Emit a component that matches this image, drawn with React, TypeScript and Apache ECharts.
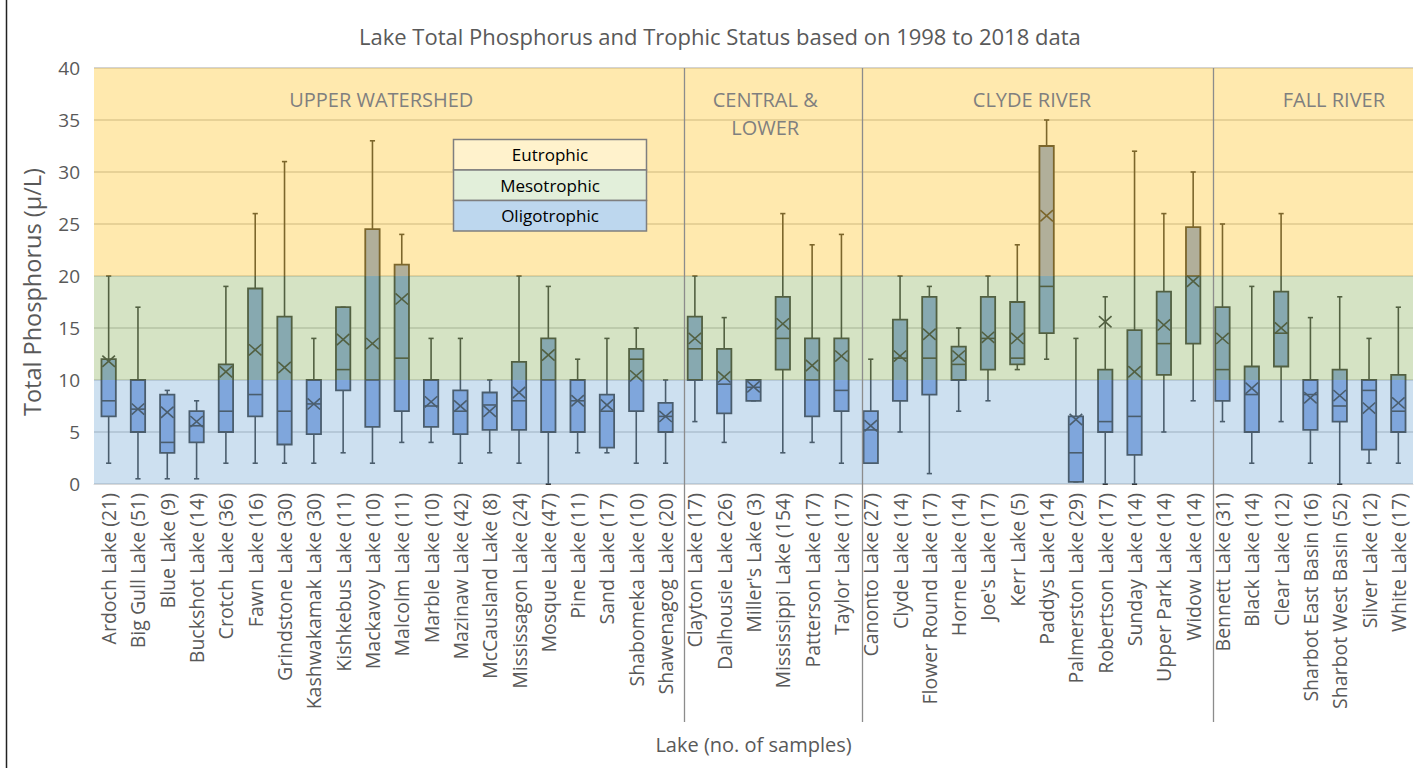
import React, { useEffect, useRef } from "react";
import * as echarts from "echarts";

const categories = [
  "Ardoch Lake (21)", "Big Gull Lake (51)", "Blue Lake (9)", "Buckshot Lake (14)", "Crotch Lake (36)",
  "Fawn Lake (16)", "Grindstone Lake (30)", "Kashwakamak Lake (30)", "Kishkebus Lake (11)", "Mackavoy Lake (10)",
  "Malcolm Lake (11)", "Marble Lake (10)", "Mazinaw Lake (42)", "McCausland Lake (8)", "Mississagon Lake (24)",
  "Mosque Lake (47)", "Pine Lake (11)", "Sand Lake (17)", "Shabomeka Lake (10)", "Shawenagog Lake (20)",
  "Clayton Lake (17)", "Dalhousie Lake (26)", "Miller's Lake (3)", "Mississippi Lake (154)", "Patterson Lake (17)",
  "Taylor Lake (17)",
  "Canonto Lake (27)", "Clyde Lake (14)", "Flower Round Lake (17)", "Horne Lake (14)", "Joe's Lake (17)",
  "Kerr Lake (5)", "Paddys Lake (14)", "Palmerston Lake (29)", "Robertson Lake (17)", "Sunday Lake (14)",
  "Upper Park Lake (14)", "Widow Lake (14)",
  "Bennett Lake (31)", "Black Lake (14)", "Clear Lake (12)", "Sharbot East Basin (16)", "Sharbot West Basin (52)",
  "Silver Lake (12)", "White Lake (17)",
];

const minVals = [2, 0.5, 0.5, 0.5, 2, 2, 2, 2, 3, 2, 4, 4, 2, 3, 2, 0, 3, 3, 2, 2, 6, 4, 8, 3, 4, 2, 2, 5, 1, 7, 8, 11, 12, 0.2, 0, 0, 5, 8, 6, 2, 6, 2, 0, 2, 2];
const q1Vals = [6.5, 5, 3, 4, 5, 6.5, 3.8, 4.8, 9, 5.5, 7, 5.5, 4.8, 5.2, 5.2, 5, 5, 3.5, 7, 5, 10, 6.8, 8, 11, 6.5, 7, 2, 8, 8.6, 10, 11, 11.5, 14.5, 0.2, 5, 2.8, 10.5, 13.5, 8, 5, 11.3, 5.2, 6, 3.3, 5];
const medianVals = [8, 7.2, 4, 5.6, 7, 8.6, 7, 7.7, 11, 10, 12.1, 7.5, 7, 7.6, 8, 10, 8, 7, 12, 6.5, 13, 9.6, 9.3, 14, 10, 9, 5.2, 12.1, 12.1, 11.5, 14, 12.1, 19, 3, 6, 6.5, 13.5, 20, 11, 8.6, 14.5, 8.6, 7.5, 9, 7];
const q3Vals = [12, 10, 8.6, 7, 11.5, 18.8, 16.1, 10, 17, 24.5, 21.1, 10, 9, 8.8, 11.75, 14, 10, 8.6, 13, 7.8, 16.1, 13, 10, 18, 14, 14, 7, 15.8, 18, 13.2, 18, 17.5, 32.5, 6.5, 11, 14.8, 18.5, 24.7, 17, 11.3, 18.5, 10, 11, 10, 10.5];
const maxVals = [20, 17, 9, 8, 19, 26, 31, 14, 17, 33, 24, 14, 14, 10, 20, 19, 12, 14, 15, 10, 20, 16, 10, 26, 23, 24, 12, 20, 19, 15, 20, 23, 35, 14, 18, 32, 26, 30, 25, 19, 26, 16, 18, 14, 17];
const meanVals = [11.8, 7.2, 6.9, 6, 10.8, 12.9, 11.2, 7.7, 13.9, 13.5, 17.8, 7.9, 7.5, 7, 8.8, 12.4, 8, 7.6, 10.4, 6.5, 14, 10.3, 9.35, 15.4, 11.4, 12.3, 5.6, 12.3, 14.4, 12.3, 14.1, 14, 25.8, 6.2, 15.6, 10.8, 15.3, 19.5, 14, 9.2, 15, 8.3, 8.5, 7.3, 7.8];

const yTicks = { min: 0, max: 40, interval: 5 };

const groupNames = ["UPPER WATERSHED", "CENTRAL &\nLOWER", "CLYDE RIVER", "FALL RIVER"];
const groupCenters = [9.8, 22.9, 32.0, 42.3];
const separatorPositions = [20.12, 26.2, 38.18];

const bandNames = ["Oligotrophic", "Mesotrophic", "Eutrophic"];
const bandFrom = [0, 10, 20];
const bandTo = [10, 20, 40];
const bandColors = ["rgb(144,186,222)", "rgb(162,193,124)", "rgb(255,206,75)"];
const legendColors = ["#BDD7EE", "#E2EFDA", "#FFF2CC"];

const FONT = "'Open Sans', 'Noto Sans', sans-serif";

export default function App() {
  const ref = useRef<HTMLDivElement>(null);

  useEffect(() => {
    if (!ref.current) return;
    const chart = echarts.init(ref.current, undefined, { renderer: "svg" });
    const data = categories.map((_, i) => [i, minVals[i], q1Vals[i], medianVals[i], q3Vals[i], maxVals[i], meanVals[i]]);
    const bandData = bandNames.map((_, i) => [bandFrom[i], bandTo[i], i]);
    const lineColor = "#121212";

    chart.setOption({
      animation: false,
      backgroundColor: "#ffffff",
      title: {
        text: "Lake Total Phosphorus and Trophic Status based on 1998 to 2018 data",
        left: 354,
        top: 20,
        textStyle: { fontFamily: FONT, fontSize: 22, fontWeight: "normal", color: "#595959" },
      },
      grid: { left: 94, right: 5, top: 68, bottom: 284, containLabel: false },
      xAxis: [
        {
          type: "category",
          data: categories,
          boundaryGap: true,
          axisLine: { show: true, lineStyle: { color: "#d9d9d9" } },
          axisTick: { show: false },
          axisLabel: {
            rotate: 90,
            interval: 0,
            fontFamily: FONT,
            fontSize: 19.5,
            color: "#595959",
            margin: 9,
          },
          name: "Lake (no. of samples)",
          nameLocation: "middle",
          nameGap: 250,
          nameTextStyle: { fontFamily: FONT, fontSize: 20, color: "#595959" },
        },
        { type: "value", min: 0, max: 45, show: false },
      ],
      yAxis: {
        type: "value",
        min: yTicks.min,
        max: yTicks.max,
        interval: yTicks.interval,
        axisLine: { show: false },
        axisTick: { show: false },
        splitLine: { show: true, lineStyle: { color: "#c4c4c4", width: 1.5 } },
        axisLabel: { fontFamily: FONT, fontSize: 19, color: "#595959", margin: 14 },
      },
      series: [
        {
          type: "custom",
          name: "boxes",
          z: 2,
          data,
          encode: { x: 0, y: [1, 2, 3, 4, 5, 6] },
          renderItem: (params: any, api: any) => {
            const idx = api.value(0);
            const pMin = api.coord([idx, api.value(1)]);
            const pQ1 = api.coord([idx, api.value(2)]);
            const pMed = api.coord([idx, api.value(3)]);
            const pQ3 = api.coord([idx, api.value(4)]);
            const pMax = api.coord([idx, api.value(5)]);
            const pMean = api.coord([idx, api.value(6)]);
            const cw = api.size([1, 0])[0];
            const bw = cw * 0.49;
            const cx = pMin[0];
            const cap = 2.6;
            const xsx = 6.3;
            const xsy = 5.6;
            const ls = { stroke: lineColor, lineWidth: 1.6 };
            const children: any[] = [
              { type: "line", shape: { x1: cx, y1: pMax[1], x2: cx, y2: pQ3[1] }, style: ls },
              { type: "line", shape: { x1: cx, y1: pQ1[1], x2: cx, y2: pMin[1] }, style: ls },
              { type: "line", shape: { x1: cx - cap, y1: pMax[1], x2: cx + cap, y2: pMax[1] }, style: ls },
              { type: "line", shape: { x1: cx - cap, y1: pMin[1], x2: cx + cap, y2: pMin[1] }, style: ls },
              {
                type: "rect",
                shape: { x: cx - bw / 2, y: pQ3[1], width: bw, height: pQ1[1] - pQ3[1] },
                style: { fill: "rgb(113,150,219)", stroke: lineColor, lineWidth: 1.8 },
              },
              { type: "line", shape: { x1: cx - bw / 2, y1: pMed[1], x2: cx + bw / 2, y2: pMed[1] }, style: ls },
              { type: "line", shape: { x1: cx - xsx, y1: pMean[1] - xsy, x2: cx + xsx, y2: pMean[1] + xsy }, style: ls },
              { type: "line", shape: { x1: cx - xsx, y1: pMean[1] + xsy, x2: cx + xsx, y2: pMean[1] - xsy }, style: ls },
            ];
            return { type: "group", children };
          },
        },
        {
          type: "custom",
          name: "bands",
          z: 6,
          silent: true,
          data: bandData,
          encode: { y: [0, 1] },
          renderItem: (params: any, api: any) => {
            const cs = params.coordSys;
            const yTop = api.coord([0, api.value(1)])[1];
            const yBot = api.coord([0, api.value(0)])[1];
            const i = api.value(2);
            return {
              type: "rect",
              shape: { x: cs.x, y: yTop, width: cs.width, height: yBot - yTop },
              style: { fill: bandColors[i], opacity: 0.45 },
            };
          },
        },
      ],
    });

    const px = (v: number) => chart.convertToPixel({ xAxisIndex: 1 }, v) as number;
    const py = (v: number) => chart.convertToPixel({ yAxisIndex: 0 }, v) as number;
    const topY = py(40);
    const graphics: any[] = [];
    separatorPositions.forEach((s) => {
      const x = Math.round(px(s)) + 0.5;
      graphics.push({
        type: "line",
        z: 20,
        shape: { x1: x, y1: topY, x2: x, y2: 722 },
        style: { stroke: "#8c8c8c", lineWidth: 1.3 },
      });
    });
    groupNames.forEach((g, i) => {
      graphics.push({
        type: "text",
        z: 20,
        x: px(groupCenters[i]),
        y: py(38.3),
        style: {
          text: g,
          fill: "#7f7f7f",
          font: `20px ${FONT}`,
          align: "center",
          verticalAlign: "top",
          lineHeight: 28,
        },
      });
    });
    graphics.push({
      type: "text",
      z: 20,
      x: 32,
      y: 292,
      rotation: Math.PI / 2,
      style: {
        text: "Total Phosphorus (\u00b5/L)",
        fill: "#595959",
        font: `23.5px ${FONT}`,
        align: "center",
        verticalAlign: "middle",
      },
    });
    const lx = 453.5, ly = 139.5, lw = 193, lh = 30.5;
    [2, 1, 0].forEach((b, i) => {
      graphics.push({
        type: "rect",
        z: 30,
        shape: { x: lx, y: ly + i * lh, width: lw, height: lh },
        style: { fill: legendColors[b], stroke: "#7f7f7f", lineWidth: 1.5 },
      });
      graphics.push({
        type: "text",
        z: 31,
        x: lx + lw / 2,
        y: ly + i * lh + lh / 2,
        style: {
          text: bandNames[b],
          fill: "#000000",
          font: `17px ${FONT}`,
          align: "center",
          verticalAlign: "middle",
        },
      });
    });
    graphics.push({
      type: "line",
      z: 30,
      shape: { x1: 6.5, y1: 0, x2: 6.5, y2: 768 },
      style: { stroke: "#222", lineWidth: 1.5 },
    });
    chart.setOption({ graphic: graphics });

    return () => chart.dispose();
  }, []);

  return (
    <div
      ref={ref}
      style={{ position: "fixed", left: 0, top: 0, width: 1418, height: 768, background: "#fff" }}
    />
  );
}
